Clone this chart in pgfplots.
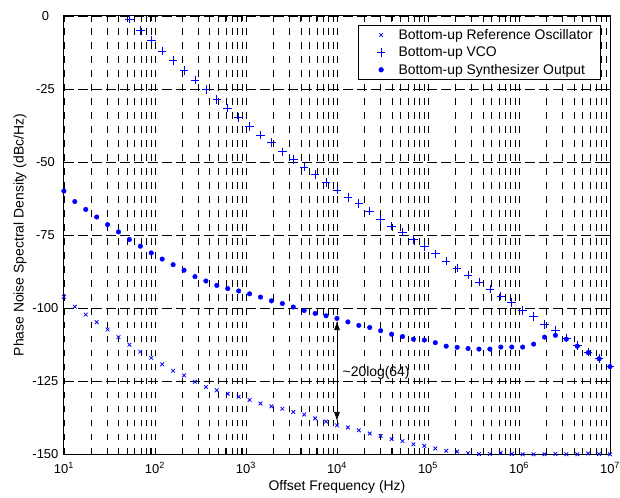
\documentclass[border=0pt]{standalone}
\usepackage{fontspec}
\setmainfont{Liberation Sans}
\usepackage{pgfplots}
\usepackage{pgfplotstable}
\pgfplotsset{compat=1.18}
\usetikzlibrary{arrows.meta}

% offset frequency (Hz), reference osc., VCO, synthesizer output (dBc/Hz)
\pgfplotstableread{
f        ref     vco     syn
10       -96.1   nan     -59.9
13.18    -99.5   nan     -63.5
17.38    -102.2  nan     -66.2
22.91    -104.8  nan     -68.8
30.20    -107.3  nan     -71.4
39.81    -109.9  nan     -73.9
52.48    -112.5  -1.0    -76.5
69.18    -114.9  -4.9    -78.8
91.20    -117.0  -8.2    -81.1
120.2    -119.2  -12.0   -83.2
158.5    -121.4  -15.3   -85.1
208.9    -123.0  -18.6   -87.0
275.4    -125.2  -21.9   -89.2
363.1    -127.0  -25.1   -90.7
478.6    -128.1  -28.6   -92.2
631.0    -129.3  -31.5   -93.3
831.8    -130.3  -34.8   -94.1
1096     -131.4  -37.9   -95.1
1445     -132.6  -40.8   -96.2
1905     -133.6  -43.4   -97.5
2512     -134.4  -46.5   -98.4
3311     -135.5  -49.1   -99.6
4365     -136.4  -51.7   -100.8
5754     -137.7  -54.3   -101.8
7586     -138.8  -56.9   -102.6
10000    -140.1  -59.6   -103.5
13183    -140.8  -62.2   -104.7
17378    -141.8  -64.1   -105.9
22909    -142.9  -66.8   -106.6
30200    -143.7  -69.6   -107.7
39811    -144.8  -71.9   -108.9
52481    -145.5  -73.9   -109.7
69183    -146.6  -76.4   -110.6
91201    -147.1  -78.9   -110.9
120226   -148.0  -81.4   -111.8
158489   -148.8  -83.9   -113.0
208930   -149.1  -86.2   -113.4
275423   -149.6  -88.6   -113.8
363078   -149.9  -91.0   -114.0
478630   -149.9  -93.5   -114.0
630957   -149.5  -95.8   -113.3
831764   -149.9  -98.1   -113.3
1096478  -150.0  -100.7  -113.3
1445440  -150.0  -102.9  -112.3
1905461  -150.0  -105.5  -109.9
2511886  -149.9  -107.6  -109.3
3311311  -150.0  -110.2  -110.6
4365158  -150.0  -112.7  -113.0
5754399  -149.7  -115.0  -115.2
7585776  -149.9  -117.2  -117.3
10000000 -150.0  -119.8  -120.0
}\noise

\begin{document}
\begin{tikzpicture}
\begin{semilogxaxis}[
 scale only axis,width=547bp,height=439bp,
 xmin=10,xmax=1e7,ymin=-150,ymax=0,
 xtick={10,100,1000,10000,100000,1000000,10000000},
 xticklabels={10\textsuperscript{1},10\textsuperscript{2},10\textsuperscript{3},10\textsuperscript{4},10\textsuperscript{5},10\textsuperscript{6},10\textsuperscript{7}},
 ytick={-150,-125,-100,-75,-50,-25,0},
 /pgf/number format/assume math mode=true,
 tick label style={font=\fontsize{13}{15}\selectfont},
 xticklabel style={anchor=north,inner sep=0pt,yshift=-8bp},
 yticklabel style={anchor=center,xshift=-18.5bp},
 xlabel={Offset Frequency (Hz)},
 ylabel={Phase Noise Spectral Density (dBc/Hz)},
 label style={font=\fontsize{14}{16}\selectfont},
 xlabel style={at={(axis description cs:0.5,-0.0752)},anchor=center},
 ylabel style={at={(axis description cs:-0.0804,0.5)},anchor=center},
 axis line style={line width=1bp},
 every tick/.style={black,line width=0.6bp},
 major tick length=6bp,minor tick length=6bp,
 xmajorgrids,xminorgrids,ymajorgrids,
 major x grid style={black,line width=0.5bp,dash pattern=on 6.5bp off 7.5bp},
 minor x grid style={black,line width=0.5bp,dash pattern=on 6.5bp off 7.5bp},
 major y grid style={black,line width=0.5bp,dash pattern=on 10bp off 4bp},
 legend cell align=left,
 legend image code/.code={\path (-16bp,0bp) (15bp,0bp);
   \draw[#1] plot coordinates {(0bp,0bp)};},
 legend style={at={(1,1)},anchor=north east,xshift=-9bp,yshift=-9bp,
   draw=black,line width=0.6bp,font=\fontsize{14}{16}\selectfont,
   inner xsep=6bp,inner ysep=2bp,row sep=2bp},
]
\addplot[only marks,blue,mark=x,mark size=2.6bp,line width=0.8bp,mark options={solid,blue}] table[x=f,y=ref] {\noise};
\addlegendentry{Bottom-up Reference Oscillator}
\addplot[only marks,blue,mark=+,mark size=4.3bp,line width=0.7bp,mark options={solid,blue},unbounded coords=discard] table[x=f,y=vco] {\noise};
\addlegendentry{Bottom-up VCO}
\addplot[only marks,blue,mark=*,mark size=2.3bp,mark options={solid,blue}] table[x=f,y=syn] {\noise};
\addlegendentry{Bottom-up Synthesizer Output}
\draw[{Latex[length=9bp,width=6bp]}-{Latex[length=9bp,width=6bp]},line width=0.6bp]
  (axis cs:1e4,-104.4) -- (axis cs:1e4,-138.6);
\node[anchor=west,inner sep=0pt,xshift=5.5bp,font=\fontsize{14}{16}\selectfont]
  at (axis cs:1e4,-122) {\textasciitilde 20log(64)};
\end{semilogxaxis}
\path (-64bp,-43bp) rectangle (556bp,455bp);
\end{tikzpicture}
\end{document}
